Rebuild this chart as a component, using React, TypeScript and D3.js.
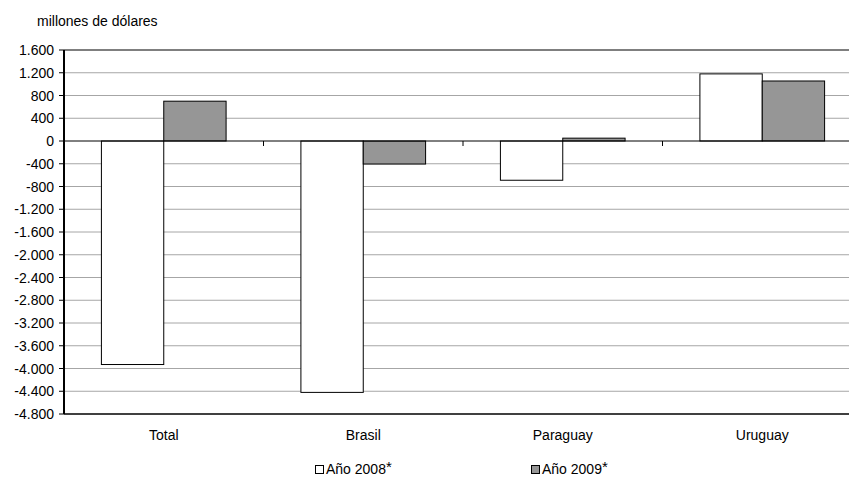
import React from "react";
import * as d3 from "d3";

const categories = ["Total", "Brasil", "Paraguay", "Uruguay"];
const series2008 = [-3930, -4420, -690, 1180];
const series2009 = [700, -405, 50, 1055];
const seriesNames = ["Año 2008", "Año 2009"];
const yTicks = [1600, 1200, 800, 400, 0, -400, -800, -1200, -1600, -2000, -2400, -2800, -3200, -3600, -4000, -4400, -4800];

const W = 849;
const H = 477;
const left = 64;
const right = 862;
const top = 50;
const bottom = 414;
const font = "'Liberation Sans', Arial, sans-serif";
const fs = 14;

export default function App() {
  const y = d3.scaleLinear().domain([-4800, 1600]).range([bottom, top]);
  const x = d3.scaleBand().domain(categories).range([left, right]).paddingInner(0).paddingOuter(0);
  const bw = x.bandwidth();
  const barW = bw / 3.2;
  const fmt = (v: number) => {
    const s = d3.format(",")(Math.abs(v)).replace(/,/g, ".");
    return (v < 0 ? "-" : "") + s;
  };
  const sub = d3.scaleBand().domain(["0", "1"]).range([0, barW * 2]);
  const fills = ["#ffffff", "#969696"];
  const data = [series2008, series2009];

  return (
    <svg width={W} height={H} style={{ position: "absolute", left: 0, top: 0, fontFamily: font }}>
      <rect x={0} y={0} width={W} height={H} fill="#fff" />
      <text x={37} y={26} fontSize={fs} fill="#000">millones de dólares</text>
      {yTicks.map((t) => (
        <g key={t}>
          {t !== 0 && t !== 1600 && t !== -4800 && (
            <line x1={left} x2={right} y1={y(t)} y2={y(t)} stroke="#a6a6a6" strokeWidth={1} />
          )}
          <line x1={59} x2={left} y1={y(t)} y2={y(t)} stroke="#000" strokeWidth={1} />
          <text x={54} y={y(t) + 5} fontSize={fs} textAnchor="end" fill="#000">{fmt(t)}</text>
        </g>
      ))}
      <line x1={left} x2={right} y1={y(1600)} y2={y(1600)} stroke="#555" strokeWidth={1.5} />
      <line x1={left} x2={right} y1={y(-4800)} y2={y(-4800)} stroke="#000" strokeWidth={1.5} />
      {categories.map((c, i) =>
        data.map((s, j) => {
          const v = s[i];
          const x0 = (x(c) as number) + (bw - barW * 2) / 2 + (sub(String(j)) as number);
          return (
            <rect
              key={c + j}
              x={x0}
              y={Math.min(y(v), y(0))}
              width={barW}
              height={Math.abs(y(v) - y(0))}
              fill={fills[j]}
              stroke="#000"
              strokeWidth={1}
            />
          );
        })
      )}
      <line x1={left} x2={right} y1={y(0)} y2={y(0)} stroke="#000" strokeWidth={1} />
      {categories.slice(1).map((c) => (
        <line key={c} x1={x(c) as number} x2={x(c) as number} y1={y(0)} y2={y(0) + 5} stroke="#000" strokeWidth={1} />
      ))}
      <line x1={left} x2={left} y1={top} y2={bottom} stroke="#000" strokeWidth={2} />
      {categories.map((c) => (
        <text key={c} x={(x(c) as number) + bw / 2} y={440} fontSize={fs} textAnchor="middle" fill="#000">{c}</text>
      ))}
      {seriesNames.map((n, j) => {
        const lx = j === 0 ? 315 : 531;
        return (
          <g key={n}>
            <rect x={lx + 0.5} y={465.5} width={8} height={8} fill={fills[j]} stroke="#000" strokeWidth={1} />
            <text x={lx + 11} y={474} fontSize={fs} fill="#000">{n}</text>
            <text x={lx + 71} y={472} fontSize={15} fill="#000">*</text>
          </g>
        );
      })}
    </svg>
  );
}
